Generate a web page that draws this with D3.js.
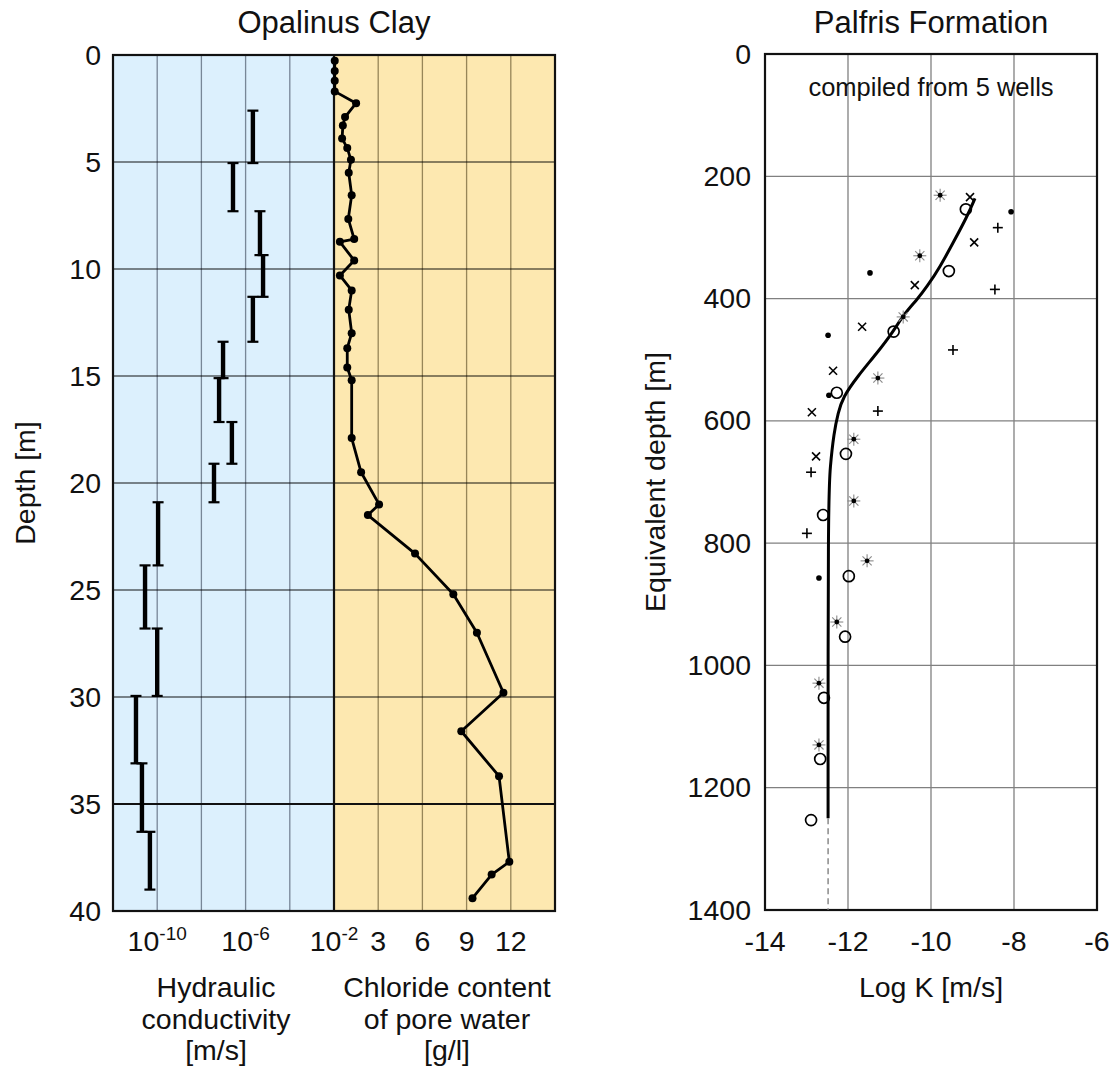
<!DOCTYPE html>
<html>
<head>
<meta charset="utf-8">
<script src="https://cdn.jsdelivr.net/npm/d3@7"></script>
<style>
  html, body { margin: 0; padding: 0; background: #fff; }
  svg { display: block; font-family: "Liberation Sans", Arial, Helvetica, sans-serif; }
</style>
</head>
<body>
<svg id="chart" width="1116" height="1069"></svg>
<script>
// ---- Opalinus Clay: depth profile ----
const depthTicks = [0, 5, 10, 15, 20, 25, 30, 35, 40];
const kGridExp = [-10, -8, -6, -4];          // log10 K grid lines
const kLabelExp = [-10, -6, -2];              // labelled decades
const chlTicks = [3, 6, 9, 12];               // chloride ticks [g/l]

// hydraulic conductivity intervals: top / bottom depth [m], log10 K [m/s]
const kTop    = [2.6, 5.05, 7.3, 9.35, 11.3, 13.4, 15.1, 17.15, 19.1, 20.9, 23.85, 26.8, 29.95, 33.1, 36.3];
const kBottom = [5.05, 7.3, 9.35, 11.3, 13.4, 15.1, 17.15, 19.1, 20.9, 23.85, 26.8, 29.95, 33.1, 36.3, 39.0];
const kLog    = [-5.67, -6.57, -5.35, -5.21, -5.67, -7.02, -7.2, -6.62, -7.43, -9.96, -10.55, -10.0, -10.96, -10.69, -10.33];

// chloride content of pore water
const chlDepth = [0.27, 0.75, 1.2, 1.7, 2.25, 2.9, 3.3, 3.9, 4.35, 4.9, 5.5, 6.55, 7.66, 8.6, 8.73, 9.6, 10.3, 11.0, 11.9, 13.0,
                  13.7, 14.6, 15.2, 17.9, 19.5, 21.0, 21.5, 23.3, 25.2, 27.0, 29.8, 31.6, 33.7, 37.7, 38.3, 39.4];
const chlValue = [0.05, 0.05, 0.05, 0.05, 1.5, 0.75, 0.6, 0.55, 0.9, 1.15, 1.0, 1.2, 0.97, 1.37, 0.4, 1.37, 0.4, 1.2, 1.0, 1.2,
                  0.9, 0.9, 1.2, 1.2, 1.84, 3.06, 2.3, 5.5, 8.1, 9.7, 11.5, 8.64, 11.2, 11.9, 10.7, 9.4];

// ---- Palfris Formation: log K vs equivalent depth ----
const eqDepthTicks = [0, 200, 400, 600, 800, 1000, 1200, 1400];
const logKTicks = [-14, -12, -10, -8, -6];

// one array pair per well: log K, equivalent depth [m]
const wellCircleK = [-9.16, -9.57, -10.9, -12.27, -12.05, -12.6, -11.98, -12.07, -12.58, -12.67, -12.89];
const wellCircleD = [254, 355, 454, 554, 654, 754, 854, 953, 1053, 1153, 1253];
const wellStarK   = [-9.78, -10.27, -10.67, -11.28, -11.86, -11.86, -11.54, -12.27, -12.7, -12.7];
const wellStarD   = [231, 330, 430, 530, 630, 731, 829, 929, 1029, 1130];
const wellCrossK  = [-9.06, -8.96, -10.39, -11.66, -12.36, -12.87, -12.77];
const wellCrossD  = [234, 308, 378, 446, 518, 586, 658];
const wellPlusK   = [-8.39, -8.46, -9.47, -11.28, -12.89, -12.99];
const wellPlusD   = [284, 385, 484, 584, 684, 784];
const wellDotK    = [-8.07, -11.47, -12.48, -12.46, -12.7];
const wellDotD    = [258, 358, 460, 558, 857];

// trend curve through the compiled data
const trendK = [-8.94, -9.13, -9.47, -9.78, -10.1, -10.34, -10.67, -10.92, -11.3, -11.78, -12.12, -12.24, -12.34, -12.43, -12.48, -12.48];
const trendD = [236, 266, 309, 348, 381, 402, 427, 455, 489, 528, 561, 587, 620, 675, 730, 1250];
const trendExtendD = [1250, 1400];

const svg = d3.select("#chart");
const FONT = 28.5;
const TITLE = 31;

// ================= left panel =================
const L = { x0: 113, xm: 334, x1: 555, y0: 55, y1: 911 };
const yDepth = d3.scaleLinear().domain([0, 40]).range([L.y0, L.y1]);
const xK = d3.scaleLog().domain([1e-12, 1e-2]).range([L.x0, L.xm]);
const xChl = d3.scaleLinear().domain([0, 15]).range([L.xm, L.x1]);

const left = svg.append("g");
left.append("rect").attr("x", L.x0).attr("y", L.y0).attr("width", L.xm - L.x0).attr("height", L.y1 - L.y0).attr("fill", "#dcf0fd");
left.append("rect").attr("x", L.xm).attr("y", L.y0).attr("width", L.x1 - L.xm).attr("height", L.y1 - L.y0).attr("fill", "#fde8b0");

// vertical grid
left.selectAll("line.kgrid").data(kGridExp).join("line")
  .attr("x1", d => xK(Math.pow(10, d))).attr("x2", d => xK(Math.pow(10, d)))
  .attr("y1", L.y0).attr("y2", L.y1)
  .attr("stroke", "rgba(20,30,50,0.5)").attr("stroke-width", 1.3);
left.selectAll("line.cgrid").data(chlTicks).join("line")
  .attr("x1", d => xChl(d)).attr("x2", d => xChl(d))
  .attr("y1", L.y0).attr("y2", L.y1)
  .attr("stroke", "rgba(50,35,0,0.5)").attr("stroke-width", 1.3);
// horizontal grid (35 m drawn as a solid boundary)
left.selectAll("line.hgrid").data(depthTicks.filter(d => d > 0 && d < 40)).join("line")
  .attr("x1", L.x0).attr("x2", L.x1)
  .attr("y1", d => yDepth(d)).attr("y2", d => yDepth(d))
  .attr("stroke", d => d === 35 ? "#111" : "rgba(0,0,0,0.62)")
  .attr("stroke-width", d => d === 35 ? 2 : 1.4);

// frame and divider
left.append("rect").attr("x", L.x0).attr("y", L.y0).attr("width", L.x1 - L.x0).attr("height", L.y1 - L.y0)
  .attr("fill", "none").attr("stroke", "#111").attr("stroke-width", 2.2);
left.append("line").attr("x1", L.xm).attr("x2", L.xm).attr("y1", L.y0).attr("y2", L.y1)
  .attr("stroke", "#111").attr("stroke-width", 2.2);

// hydraulic conductivity bars
const kData = kLog.map((k, i) => ({ k, top: kTop[i], bot: kBottom[i] }));
const bars = left.selectAll("g.kbar").data(kData).join("g");
bars.append("line")
  .attr("x1", d => xK(Math.pow(10, d.k))).attr("x2", d => xK(Math.pow(10, d.k)))
  .attr("y1", d => yDepth(d.top)).attr("y2", d => yDepth(d.bot))
  .attr("stroke", "#000").attr("stroke-width", 4.4);
["top", "bot"].forEach(end => {
  bars.append("line")
    .attr("x1", d => xK(Math.pow(10, d.k)) - 5.5).attr("x2", d => xK(Math.pow(10, d.k)) + 5.5)
    .attr("y1", d => yDepth(d[end])).attr("y2", d => yDepth(d[end]))
    .attr("stroke", "#000").attr("stroke-width", 2.2);
});

// chloride profile
const chlData = chlValue.map((v, i) => ({ v, d: chlDepth[i] }));
left.append("path").datum(chlData)
  .attr("d", d3.line().x(d => xChl(d.v)).y(d => yDepth(d.d)))
  .attr("fill", "none").attr("stroke", "#000").attr("stroke-width", 2.8).attr("stroke-linejoin", "round");
left.selectAll("circle.chl").data(chlData).join("circle")
  .attr("cx", d => xChl(d.v)).attr("cy", d => yDepth(d.d)).attr("r", 4).attr("fill", "#000");

// depth axis
const axL = left.append("g").attr("transform", `translate(${L.x0 - 12},0)`)
  .call(d3.axisLeft(yDepth).tickValues(depthTicks).tickSize(0).tickPadding(0));
axL.select(".domain").remove();
axL.selectAll("text").attr("font-size", FONT).attr("fill", "#111").attr("font-family", null);

// bottom tick labels: decades with superscript exponents, then chloride values
const kLab = left.append("g").attr("font-size", FONT).attr("fill", "#111");
kLabelExp.forEach(e => {
  const t = kLab.append("text").attr("x", xK(Math.pow(10, e))).attr("y", 951).attr("text-anchor", "middle");
  t.append("tspan").text("10");
  t.append("tspan").attr("font-size", 19).attr("dy", -11).text(e);
});
left.append("g").selectAll("text").data(chlTicks).join("text")
  .attr("x", d => xChl(d)).attr("y", 951).attr("text-anchor", "middle")
  .attr("font-size", FONT).attr("fill", "#111").text(d => d);

// axis titles
function multiline(g, x, y0, lines, dy) {
  lines.forEach((s, i) => g.append("text").attr("x", x).attr("y", y0 + i * dy)
    .attr("text-anchor", "middle").attr("font-size", FONT).attr("fill", "#111").text(s));
}
multiline(left, 216, 997, ["Hydraulic", "conductivity", "[m/s]"], 31.5);
multiline(left, 447, 997, ["Chloride content", "of pore water", "[g/l]"], 31.5);
left.append("text").attr("transform", `translate(35,${(L.y0 + L.y1) / 2}) rotate(-90)`)
  .attr("text-anchor", "middle").attr("font-size", FONT).attr("fill", "#111").text("Depth [m]");
left.append("text").attr("x", L.xm).attr("y", 33).attr("text-anchor", "middle")
  .attr("font-size", TITLE).attr("fill", "#111").text("Opalinus Clay");

// ================= right panel =================
const R = { x0: 765, x1: 1097, y0: 54, y1: 910 };
const xLogK = d3.scaleLinear().domain([-14, -6]).range([R.x0, R.x1]);
const yEq = d3.scaleLinear().domain([0, 1400]).range([R.y0, R.y1]);
const right = svg.append("g");

right.selectAll("line.vg").data(logKTicks.slice(1, -1)).join("line")
  .attr("x1", d => xLogK(d)).attr("x2", d => xLogK(d)).attr("y1", R.y0).attr("y2", R.y1)
  .attr("stroke", "#808080").attr("stroke-width", 1.3);
right.selectAll("line.hg").data(eqDepthTicks.slice(1, -1)).join("line")
  .attr("x1", R.x0).attr("x2", R.x1).attr("y1", d => yEq(d)).attr("y2", d => yEq(d))
  .attr("stroke", "#808080").attr("stroke-width", 1.3);
right.append("rect").attr("x", R.x0).attr("y", R.y0).attr("width", R.x1 - R.x0).attr("height", R.y1 - R.y0)
  .attr("fill", "none").attr("stroke", "#111").attr("stroke-width", 2.2);

right.append("text").attr("x", (R.x0 + R.x1) / 2).attr("y", 96).attr("text-anchor", "middle")
  .attr("font-size", 25.5).attr("fill", "#111").text("compiled from 5 wells");

// trend curve + dashed extension
const trend = trendK.map((k, i) => ({ k, d: trendD[i] }));
right.append("path").datum(trend)
  .attr("d", d3.line().x(d => xLogK(d.k)).y(d => yEq(d.d)).curve(d3.curveBasis))
  .attr("fill", "none").attr("stroke", "#000").attr("stroke-width", 3);
right.append("path").datum(trendExtendD)
  .attr("d", d3.line().x(() => xLogK(trendK[trendK.length - 1])).y(d => yEq(d)))
  .attr("fill", "none").attr("stroke", "#777").attr("stroke-width", 1.3).attr("stroke-dasharray", "6,4");

// well markers
const pts = (ks, ds) => ks.map((k, i) => ({ k, d: ds[i] }));
const px = d => xLogK(d.k), py = d => yEq(d.d);

right.selectAll("circle.wc").data(pts(wellCircleK, wellCircleD)).join("circle")
  .attr("cx", px).attr("cy", py).attr("r", 5.5).attr("fill", "none").attr("stroke", "#000").attr("stroke-width", 1.7);

right.selectAll("circle.wd").data(pts(wellDotK, wellDotD)).join("circle")
  .attr("cx", px).attr("cy", py).attr("r", 2.8).attr("fill", "#000");

const plusG = right.selectAll("g.wp").data(pts(wellPlusK, wellPlusD)).join("g")
  .attr("transform", d => `translate(${px(d)},${py(d)})`).attr("stroke", "#000").attr("stroke-width", 1.6);
plusG.append("line").attr("x1", -5).attr("x2", 5);
plusG.append("line").attr("y1", -5).attr("y2", 5);

const crossG = right.selectAll("g.wx").data(pts(wellCrossK, wellCrossD)).join("g")
  .attr("transform", d => `translate(${px(d)},${py(d)})`).attr("stroke", "#000").attr("stroke-width", 1.6);
crossG.append("line").attr("x1", -4).attr("y1", -4).attr("x2", 4).attr("y2", 4);
crossG.append("line").attr("x1", -4).attr("y1", 4).attr("x2", 4).attr("y2", -4);

const starG = right.selectAll("g.ws").data(pts(wellStarK, wellStarD)).join("g")
  .attr("transform", d => `translate(${px(d)},${py(d)})`);
[0, 45, 90, 135].forEach(a => {
  starG.append("line").attr("x1", -6.5).attr("x2", 6.5).attr("transform", `rotate(${a})`)
    .attr("stroke", "#8a8a8a").attr("stroke-width", 1.1);
});
starG.append("circle").attr("r", 2.4).attr("fill", "#000");

// axes
const axR = right.append("g").attr("transform", `translate(${R.x0 - 14},0)`)
  .call(d3.axisLeft(yEq).tickValues(eqDepthTicks).tickFormat(d3.format("d")).tickSize(0).tickPadding(0));
axR.select(".domain").remove();
axR.selectAll("text").attr("font-size", FONT).attr("fill", "#111").attr("font-family", null);

right.append("g").selectAll("text").data(logKTicks).join("text")
  .attr("x", d => xLogK(d)).attr("y", 951).attr("text-anchor", "middle")
  .attr("font-size", FONT).attr("fill", "#111").text(d => d);

right.append("text").attr("x", (R.x0 + R.x1) / 2).attr("y", 997).attr("text-anchor", "middle")
  .attr("font-size", FONT).attr("fill", "#111").text("Log K [m/s]");
right.append("text").attr("transform", `translate(665,${(R.y0 + R.y1) / 2}) rotate(-90)`)
  .attr("text-anchor", "middle").attr("font-size", FONT).attr("fill", "#111").text("Equivalent depth [m]");
right.append("text").attr("x", (R.x0 + R.x1) / 2).attr("y", 33).attr("text-anchor", "middle")
  .attr("font-size", TITLE).attr("fill", "#111").text("Palfris Formation");
</script>
</body>
</html>
